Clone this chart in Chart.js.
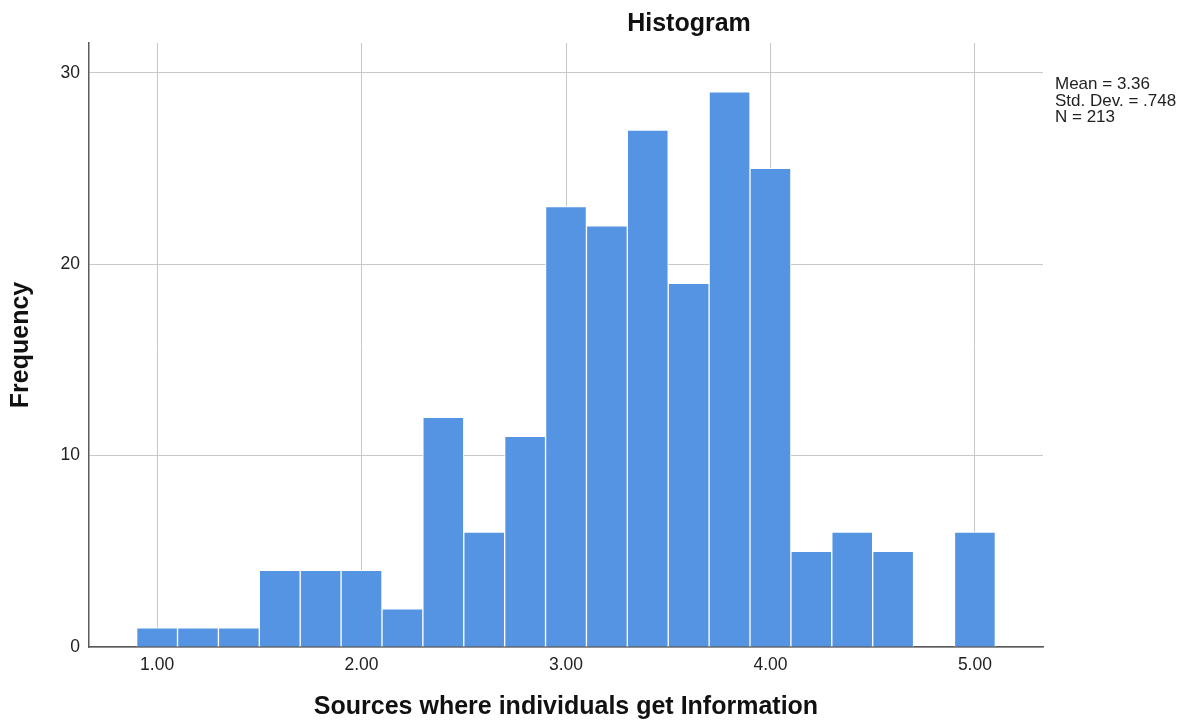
<!DOCTYPE html>
<html>
<head>
<meta charset="utf-8">
<script src="https://cdn.jsdelivr.net/npm/chart.js@4.4.1/dist/chart.umd.min.js"></script>
<style>
  html, body { margin: 0; padding: 0; background: #fff; }
  #wrap { width: 1183px; height: 720px; position: relative; }
</style>
</head>
<body>
<div id="wrap"><canvas id="histChart"></canvas></div>
<script>
const binCenters = [1.0, 1.2, 1.4, 1.6, 1.8, 2.0, 2.2, 2.4, 2.6, 2.8, 3.0, 3.2, 3.4, 3.6, 3.8, 4.0, 4.2, 4.4, 4.6, 4.8, 5.0];
const frequencies = [1, 1, 1, 4, 4, 4, 2, 12, 6, 11, 23, 22, 27, 19, 29, 25, 5, 6, 5, 0, 6];
const xTickValues = [1, 2, 3, 4, 5];
const yTickValues = [0, 10, 20, 30];
const chartTitle = "Histogram";
const statsLines = ["Mean = 3.36", "Std. Dev. = .748", "N = 213"];

const fontFamily = "'Liberation Sans', Arial, sans-serif";

// title and stats box are placed like SPSS does, not like chart.js would
const extraText = {
    id: "extraText",
    afterDraw(chart) {
        const ctx = chart.ctx;
        ctx.save();
        ctx.fillStyle = "#111";
        ctx.font = "bold 25px " + fontFamily;
        ctx.textAlign = "center";
        ctx.textBaseline = "middle";
        ctx.fillText(chartTitle, 689, 24);

        ctx.fillStyle = "#222";
        ctx.font = "17px " + fontFamily;
        ctx.textAlign = "left";
        ctx.textBaseline = "alphabetic";
        statsLines.forEach((line, i) => {
            ctx.fillText(line, 1055, 89 + i * 16.5);
        });
        ctx.restore();
    },
};

new Chart(document.getElementById("histChart"), {
    type: "bar",
    data: {
        datasets: [
            {
                label: "Frequency",
                data: binCenters.map((x, i) => ({ x: x, y: frequencies[i] })),
                backgroundColor: "#5594e3",
                borderColor: "#ffffff",
                borderWidth: 1,
                barPercentage: 1,
                categoryPercentage: 1,
            },
        ],
    },
    options: {
        responsive: true,
        maintainAspectRatio: false,
        animation: false,
        layout: {
            padding: { left: 0, right: 140, top: 43, bottom: 0 },
        },
        scales: {
            x: {
                type: "linear",
                offset: false,
                min: 0.667,
                max: 5.333,
                afterBuildTicks: (axis) => {
                    axis.ticks = xTickValues.map((v) => ({ value: v }));
                },
                afterFit: (axis) => {
                    axis.height = 73;
                },
                grid: {
                    offset: false,
                    color: "#c8c8c8",
                    lineWidth: 1,
                    drawTicks: false,
                },
                border: { color: "#5a5a5a", width: 1.5 },
                ticks: {
                    padding: 8,
                    color: "#222",
                    font: { family: fontFamily, size: 17.5 },
                    callback: (value) => Number(value).toFixed(2),
                },
                title: {
                    display: true,
                    text: "Sources where individuals get Information",
                    color: "#111",
                    font: { family: fontFamily, size: 25, weight: "bold", lineHeight: 1 },
                    padding: { top: 0, bottom: 0 },
                },
            },
            y: {
                min: 0,
                max: 31.55,
                afterBuildTicks: (axis) => {
                    axis.ticks = yTickValues.map((v) => ({ value: v }));
                },
                afterFit: (axis) => {
                    axis.width = 89;
                },
                grid: {
                    color: "#c8c8c8",
                    lineWidth: 1,
                    drawTicks: false,
                },
                border: { color: "#5a5a5a", width: 1.5 },
                ticks: {
                    padding: 9,
                    color: "#222",
                    font: { family: fontFamily, size: 17.5 },
                },
                title: {
                    display: true,
                    text: "Frequency",
                    color: "#111",
                    font: { family: fontFamily, size: 25, weight: "bold", lineHeight: 1 },
                    padding: { top: 9, bottom: 0 },
                },
            },
        },
        plugins: {
            legend: { display: false },
            title: { display: false },
            tooltip: { enabled: false },
        },
    },
    plugins: [extraText],
});
</script>
</body>
</html>
